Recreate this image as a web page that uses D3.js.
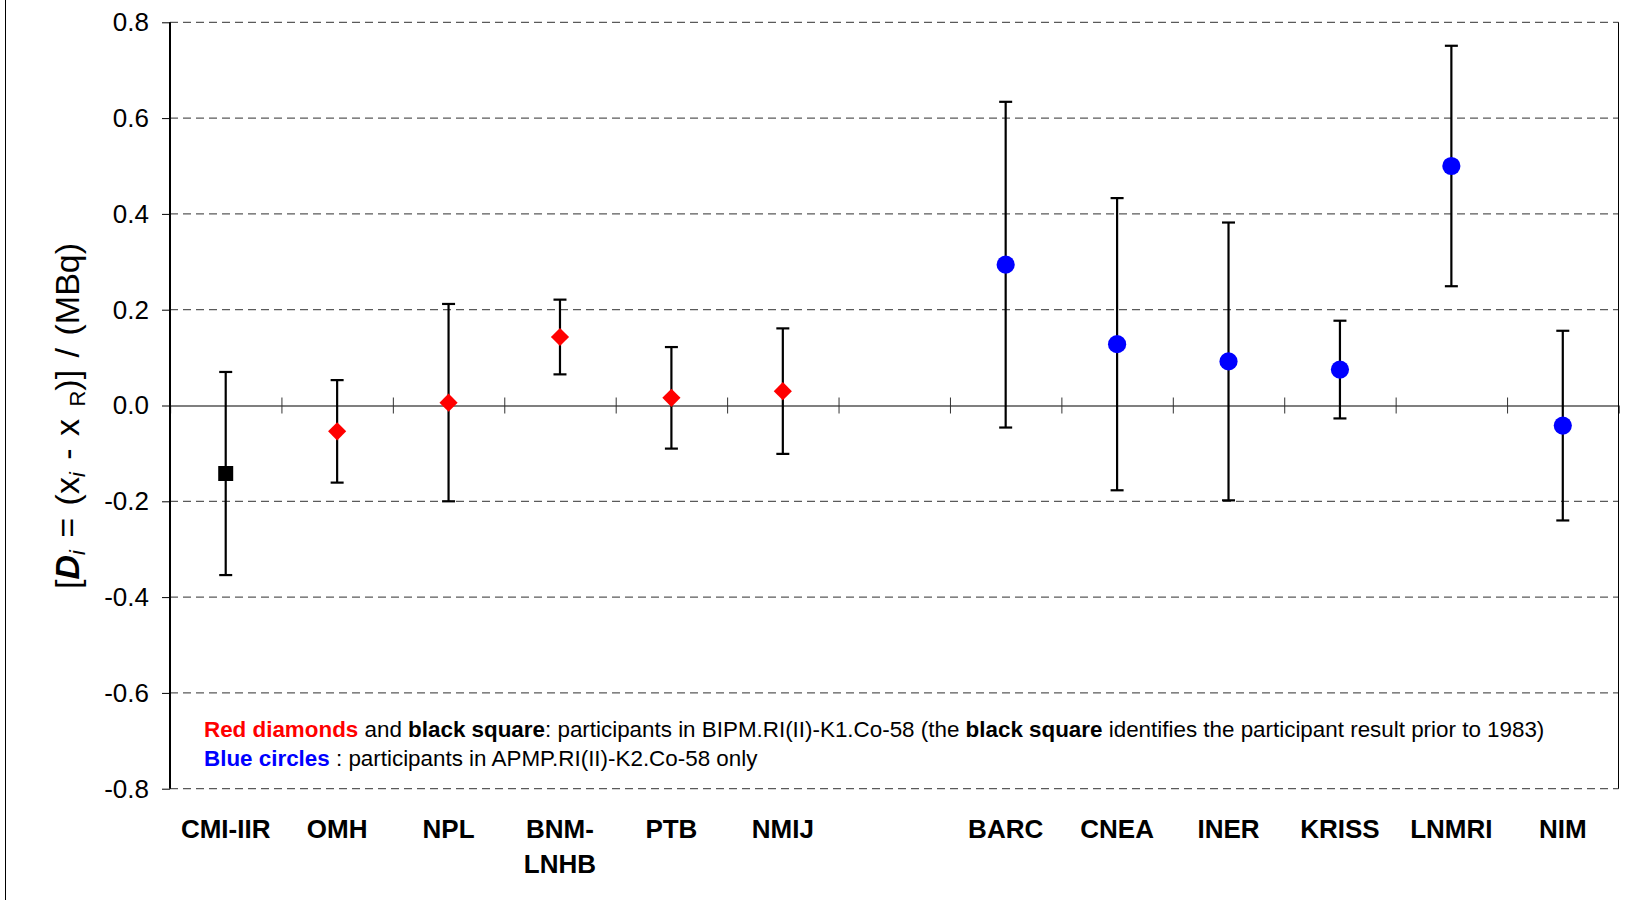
<!DOCTYPE html>
<html>
<head>
<meta charset="utf-8">
<script src="https://cdn.jsdelivr.net/npm/d3@7"></script>
<style>
  body { margin: 0; background: #fff; }
  svg { display: block; font-family: "Liberation Sans", Arial, sans-serif; }
</style>
</head>
<body>
<div id="chart"></div>
<script>
// participants (empty string is the gap between the two comparisons)
const participants = ["CMI-IIR", "OMH", "NPL", "BNM-LNHB", "PTB", "NMIJ", "", "BARC", "CNEA", "INER", "KRISS", "LNMRI", "NIM"];
const tickLabels = [["CMI-IIR"], ["OMH"], ["NPL"], ["BNM-", "LNHB"], ["PTB"], ["NMIJ"], [""], ["BARC"], ["CNEA"], ["INER"], ["KRISS"], ["LNMRI"], ["NIM"]];
// degrees of equivalence D_i / MBq and expanded uncertainty U_i / MBq
const dValues = [-0.142, -0.054, 0.006, 0.143, 0.016, 0.030, null, 0.294, 0.128, 0.092, 0.075, 0.500, -0.042];
const uValues = [0.212, 0.107, 0.206, 0.078, 0.106, 0.131, null, 0.340, 0.305, 0.290, 0.102, 0.251, 0.198];
const markerKinds = ["square", "diamond", "diamond", "diamond", "diamond", "diamond", null, "circle", "circle", "circle", "circle", "circle", "circle"];
const yTicks = [-0.8, -0.6, -0.4, -0.2, 0.0, 0.2, 0.4, 0.6, 0.8];

const W = 1627, H = 900;
const plot = { left: 170, right: 1618.5, top: 22.3, bottom: 788.7 };

const svg = d3.select("#chart").append("svg")
    .attr("width", W)
    .attr("height", H);

svg.append("rect").attr("width", W).attr("height", H).attr("fill", "#fff");

// outer frame, only the left edge shows in the picture
svg.append("line")
    .attr("x1", 5.5).attr("x2", 5.5)
    .attr("y1", 0).attr("y2", H)
    .attr("stroke", "#000").attr("stroke-width", 1);

const x = d3.scaleBand()
    .domain(d3.range(participants.length))
    .range([plot.left, plot.right])
    .padding(0);

const y = d3.scaleLinear()
    .domain([-0.8, 0.8])
    .range([plot.bottom, plot.top]);

// dashed grid lines
svg.append("g")
    .selectAll("line")
    .data(yTicks.filter(d => d !== 0))
    .enter().append("line")
    .attr("x1", plot.left).attr("x2", plot.right)
    .attr("y1", d => y(d)).attr("y2", d => y(d))
    .attr("stroke", "#5a5a5a")
    .attr("stroke-width", 1.2)
    .attr("stroke-dasharray", "8,5");

// y axis
const yAxis = d3.axisLeft(y)
    .tickValues(yTicks)
    .tickFormat(d => d3.format(".1f")(d).replace("−", "-"))
    .tickSize(8)
    .tickPadding(13);

const gy = svg.append("g")
    .attr("transform", `translate(${plot.left},0)`)
    .call(yAxis);
gy.select(".domain").remove();
gy.selectAll(".tick line").attr("stroke", "#000").attr("stroke-width", 1);
gy.selectAll(".tick text")
    .attr("font-size", 26)
    .attr("fill", "#000")
    .style("font-family", "'Liberation Sans', Arial, sans-serif");

// plot borders
svg.append("line")
    .attr("x1", plot.left).attr("x2", plot.left)
    .attr("y1", plot.top).attr("y2", plot.bottom)
    .attr("stroke", "#000").attr("stroke-width", 2);
svg.append("line")
    .attr("x1", plot.right).attr("x2", plot.right)
    .attr("y1", plot.top).attr("y2", plot.bottom)
    .attr("stroke", "#000").attr("stroke-width", 1);

// zero line with category separators
const sep = d3.scaleLinear().domain([0, participants.length]).range([plot.left, plot.right]);
const gx = svg.append("g")
    .attr("transform", `translate(0,${y(0)})`)
    .call(d3.axisBottom(sep).tickValues(d3.range(1, participants.length)).tickSize(8).tickFormat(""));
gx.select(".domain").attr("stroke", "#000").attr("stroke-width", 1.2);
gx.selectAll(".tick line").attr("y1", -8).attr("y2", 8).attr("stroke", "#333");

// x labels
const lbl = svg.append("g")
    .selectAll("text")
    .data(tickLabels)
    .enter().append("text")
    .attr("x", (d, i) => x(i) + x.bandwidth() / 2)
    .attr("y", 838)
    .attr("text-anchor", "middle")
    .attr("font-size", 26)
    .attr("font-weight", "bold")
    .attr("fill", "#000");
lbl.selectAll("tspan")
    .data(d => d)
    .enter().append("tspan")
    .attr("x", function() { return this.parentNode.getAttribute("x"); })
    .attr("dy", (d, i) => i === 0 ? 0 : 35)
    .text(d => d);

// points with error bars
const pts = participants.map((p, i) => ({ i, d: dValues[i], u: uValues[i], kind: markerKinds[i] }))
    .filter(p => p.d !== null);

const cx = p => x(p.i) + x.bandwidth() / 2;
const bars = svg.append("g").attr("stroke", "#000").attr("stroke-width", 2.2);
bars.selectAll(".v").data(pts).enter().append("line")
    .attr("x1", cx).attr("x2", cx)
    .attr("y1", p => y(p.d + p.u)).attr("y2", p => y(p.d - p.u));
bars.selectAll(".t").data(pts).enter().append("line")
    .attr("x1", p => cx(p) - 6.5).attr("x2", p => cx(p) + 6.5)
    .attr("y1", p => y(p.d + p.u)).attr("y2", p => y(p.d + p.u));
bars.selectAll(".b").data(pts).enter().append("line")
    .attr("x1", p => cx(p) - 6.5).attr("x2", p => cx(p) + 6.5)
    .attr("y1", p => y(p.d - p.u)).attr("y2", p => y(p.d - p.u));

const symbols = {
    square: { type: d3.symbolSquare, size: 225, fill: "#000", rot: 0 },
    diamond: { type: d3.symbolSquare, size: 165, fill: "#ff0000", rot: 45 },
    circle: { type: d3.symbolCircle, size: 260, fill: "#0000ff", rot: 0 }
};
svg.append("g")
    .selectAll("path")
    .data(pts)
    .enter().append("path")
    .attr("d", p => d3.symbol().type(symbols[p.kind].type).size(symbols[p.kind].size)())
    .attr("transform", p => `translate(${cx(p)},${y(p.d)}) rotate(${symbols[p.kind].rot})`)
    .attr("fill", p => symbols[p.kind].fill);

// y axis title
const title = svg.append("text")
    .attr("transform", "translate(79,416) rotate(-90)")
    .attr("text-anchor", "middle")
    .attr("font-size", 34)
    .attr("fill", "#000")
    .style("word-spacing", "3px");
title.append("tspan").text("[");
title.append("tspan").attr("font-weight", "bold").attr("font-style", "italic").text("D");
title.append("tspan").attr("font-style", "italic").attr("font-size", 22).attr("dy", 6).text("i");
title.append("tspan").attr("dy", -6).text(" = (x");
title.append("tspan").attr("font-style", "italic").attr("font-size", 22).attr("dy", 6).text("i");
title.append("tspan").attr("dy", -6).text(" - x ");
title.append("tspan").attr("font-size", 22).attr("dy", 6).text("R");
title.append("tspan").attr("dy", -6).text(")] / (MBq)");

// note inside plot
const note1 = svg.append("text").attr("x", 204).attr("y", 737).attr("font-size", 22.4).attr("fill", "#000");
note1.append("tspan").attr("fill", "#ff0000").attr("font-weight", "bold").text("Red diamonds");
note1.append("tspan").text(" and ");
note1.append("tspan").attr("font-weight", "bold").text("black square");
note1.append("tspan").text(": participants in BIPM.RI(II)-K1.Co-58 (the ");
note1.append("tspan").attr("font-weight", "bold").text("black square");
note1.append("tspan").text(" identifies the participant result prior to 1983)");

const note2 = svg.append("text").attr("x", 204).attr("y", 766).attr("font-size", 22.4).attr("fill", "#000");
note2.append("tspan").attr("fill", "#0000ff").attr("font-weight", "bold").text("Blue circles");
note2.append("tspan").text(" : participants in APMP.RI(II)-K2.Co-58 only");
</script>
</body>
</html>
